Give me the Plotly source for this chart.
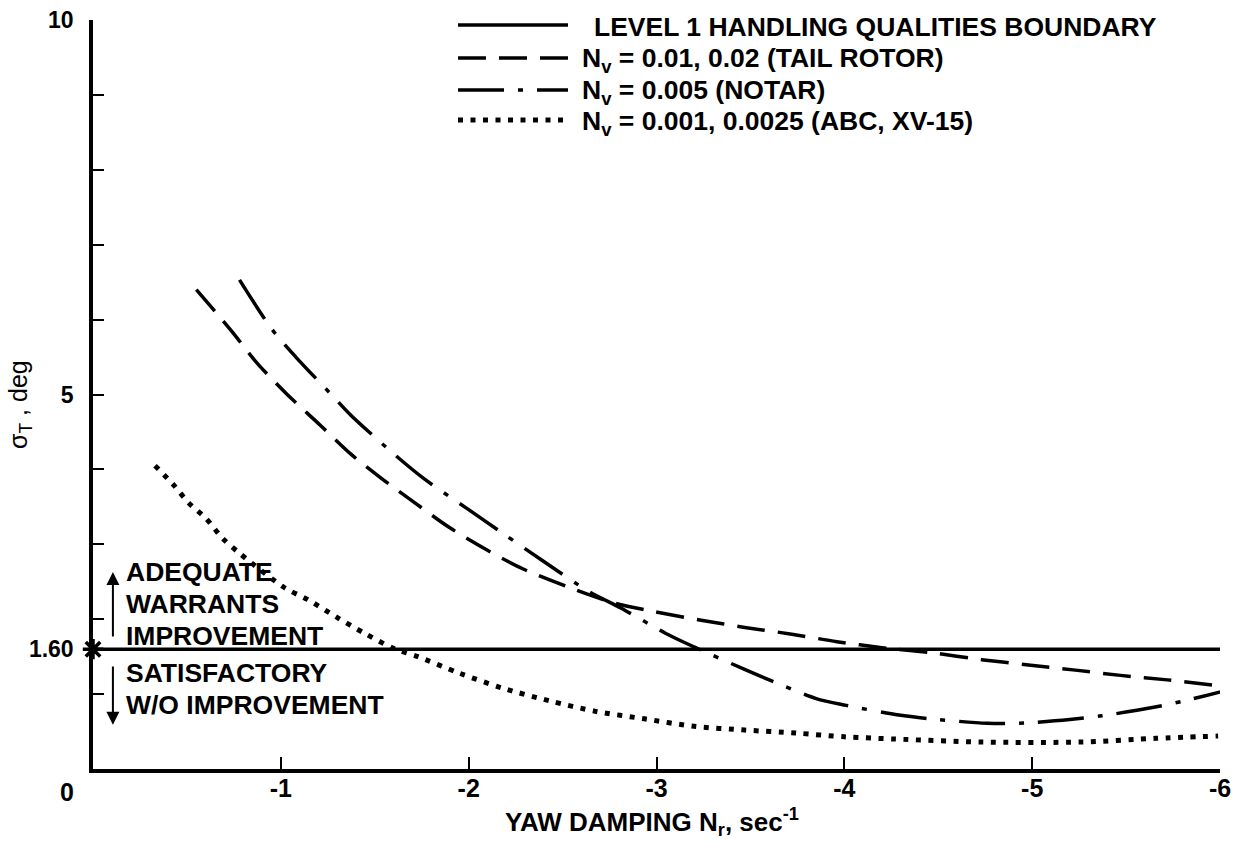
import plotly.graph_objects as go

# ---------------- data ----------------
boundary_x = [0.0, -6.0]
boundary_y = [1.60, 1.60]

tail_x = [-0.55, -0.74, -0.87, -1.03, -1.21, -1.37, -1.53, -1.71, -1.90, -2.10, -2.29,
          -2.55, -2.77, -2.99, -3.23, -3.47, -3.72, -3.96, -4.20, -4.47, -4.73, -4.98,
          -5.23, -5.47, -5.72, -6.00]
tail_y = [6.40, 5.84, 5.43, 5.01, 4.59, 4.21, 3.89, 3.56, 3.22, 2.92, 2.67,
          2.41, 2.22, 2.10, 1.99, 1.89, 1.80, 1.70, 1.62, 1.55, 1.46, 1.39,
          1.32, 1.25, 1.19, 1.11]

notar_x = [-0.78, -0.95, -1.08, -1.28, -1.37, -1.60, -1.76, -1.99, -2.18, -2.40, -2.64,
           -2.81, -3.05, -3.20, -3.46, -3.60, -3.85, -4.01, -4.29, -4.46, -4.76, -4.93,
           -5.20, -5.37, -5.64, -5.81, -6.08]
notar_y = [6.53, 5.88, 5.50, 4.97, 4.73, 4.21, 3.88, 3.48, 3.15, 2.77, 2.37,
           2.15, 1.81, 1.63, 1.34, 1.19, 0.94, 0.85, 0.72, 0.67, 0.61, 0.61,
           0.66, 0.71, 0.82, 0.91, 1.08]

abc_x = [-0.33, -0.43, -0.51, -0.60, -0.69, -0.78, -1.02, -1.145, -1.295, -1.44, -1.60,
         -1.73, -1.95, -2.18, -2.43, -2.675, -2.935, -3.20, -3.47, -3.74, -4.00, -4.27,
         -4.73, -5.26, -5.66, -5.99]
abc_y = [4.05, 3.79, 3.55, 3.35, 3.08, 2.88, 2.42, 2.26, 2.03, 1.82, 1.61,
         1.50, 1.28, 1.08, 0.91, 0.77, 0.67, 0.57, 0.52, 0.48, 0.43, 0.40,
         0.36, 0.36, 0.41, 0.44]

x_tick_vals = [-1, -2, -3, -4, -5, -6]
x_tick_text = ["-1", "-2", "-3", "-4", "-5", "-6"]
y_tick_vals = [0, 1, 1.6, 2, 3, 4, 5, 6, 7, 8, 9, 10]
y_tick_text = ["", "", "1.60", "", "", "", "5", "", "", "", "", "10"]

legend_labels = [
    "LEVEL 1 HANDLING QUALITIES BOUNDARY",
    "N<sub>v</sub> = 0.01, 0.02 (TAIL ROTOR)",
    "N<sub>v</sub> = 0.005 (NOTAR)",
    "N<sub>v</sub> = 0.001, 0.0025 (ABC, XV-15)",
]
upper_region_lines = ["ADEQUATE", "WARRANTS", "IMPROVEMENT"]
lower_region_lines = ["SATISFACTORY", "W/O IMPROVEMENT"]

FONT = "Liberation Sans, Arial, sans-serif"
BLACK = "#000000"
TXT = 26.5

fig = go.Figure()

SOLID = "solid"
DASH = "28px,13px"
DASHDOT = "46px,14px,5px,14px"
DOT = "5px,7.5px"

fig.add_trace(go.Scatter(x=boundary_x, y=boundary_y, mode="lines",
                         line=dict(color=BLACK, width=3.5, dash=SOLID), showlegend=False))
fig.add_trace(go.Scatter(x=tail_x, y=tail_y, mode="lines",
                         line=dict(color=BLACK, width=3.5, dash=DASH, shape="spline", smoothing=0.8),
                         showlegend=False))
fig.add_trace(go.Scatter(x=notar_x, y=notar_y, mode="lines",
                         line=dict(color=BLACK, width=3.5, dash=DASHDOT, shape="spline", smoothing=0.8),
                         showlegend=False))
fig.add_trace(go.Scatter(x=abc_x, y=abc_y, mode="lines",
                         line=dict(color=BLACK, width=5, dash=DOT, shape="spline", smoothing=0.8),
                         showlegend=False))
# star marking the boundary value on the axis
fig.add_trace(go.Scatter(x=[boundary_x[0]], y=[boundary_y[0]], mode="markers",
                         marker=dict(symbol="asterisk-open", size=17, color=BLACK,
                                     line=dict(color=BLACK, width=3.5)),
                         cliponaxis=False, showlegend=False))

# --------------- layout ---------------
W, H = 1239, 851
ML, MR, MT, MB = 93, 19, 20, 82
PW, PH = W - ML - MR, H - MT - MB


def px_x(px):
    return (px - ML) / PW


def px_y(py):
    return (H - MB - py) / PH


fig.update_layout(
    width=W, height=H, autosize=False,
    margin=dict(l=ML, r=MR, t=MT, b=MB, pad=0, autoexpand=False),
    paper_bgcolor="white", plot_bgcolor="white",
    font=dict(family=FONT, color=BLACK),
    showlegend=False,
)
fig.update_xaxes(
    range=[0, -6.0], showgrid=False, zeroline=False, automargin=False,
    showline=True, linecolor=BLACK, linewidth=3.5,
    ticks="inside", ticklen=12, tickwidth=2, tickcolor=BLACK,
    tickvals=x_tick_vals, ticktext=x_tick_text,
    tickfont=dict(family=FONT, size=25, color=BLACK, weight="bold"),
    ticklabelstandoff=-6,
)
fig.update_yaxes(
    range=[0, 10], showgrid=False, zeroline=False, automargin=False,
    showline=True, linecolor=BLACK, linewidth=3.5,
    ticks="inside", ticklen=11, tickwidth=2, tickcolor=BLACK,
    tickvals=y_tick_vals, ticktext=y_tick_text,
    tickfont=dict(family=FONT, size=23, color=BLACK, weight="bold"),
    ticklabelstandoff=11,
)

annotations = []
# x axis title
annotations.append(dict(text="YAW DAMPING N<sub>r</sub>, sec<sup>-1</sup>", xref="paper", yref="paper",
                        x=px_x(652), y=px_y(822), xanchor="center", yanchor="middle", showarrow=False,
                        font=dict(family=FONT, size=26, color=BLACK, weight="bold")))
# origin "0"
annotations.append(dict(text="0", xref="paper", yref="paper", x=px_x(67), y=px_y(792),
                        xanchor="center", yanchor="middle", showarrow=False,
                        font=dict(family=FONT, size=25, color=BLACK, weight="bold")))
# y axis title
annotations.append(dict(text="σ<sub>T</sub> , deg", xref="paper", yref="paper",
                        x=px_x(20), y=px_y(405), textangle=-90,
                        xanchor="center", yanchor="middle", showarrow=False,
                        font=dict(family=FONT, size=25, color=BLACK)))
# region labels (one annotation per line)
upper_py = [572, 604, 636]
lower_py = [673, 705]
for txt, py in zip(upper_region_lines + lower_region_lines, upper_py + lower_py):
    annotations.append(dict(text=txt, xref="paper", yref="paper",
                            x=px_x(124), y=px_y(py), xanchor="left", yanchor="middle", align="left",
                            showarrow=False, font=dict(family=FONT, size=TXT, color=BLACK, weight="bold")))
# arrows
annotations.append(dict(text="", x=-0.106, y=2.63, ax=-0.106, ay=1.75, xref="x", yref="y",
                        axref="x", ayref="y", showarrow=True, arrowhead=2, arrowsize=1.3,
                        arrowwidth=2, arrowcolor=BLACK))
annotations.append(dict(text="", x=-0.106, y=0.59, ax=-0.106, ay=1.39, xref="x", yref="y",
                        axref="x", ayref="y", showarrow=True, arrowhead=2, arrowsize=1.3,
                        arrowwidth=2, arrowcolor=BLACK))

# legend (manual)
legend_rows_py = [25, 58, 90, 120]
legend_text_x = [592, 580, 580, 580]
legend_text_py = [27, 60, 92, 123]
legend_dashes = [SOLID, DASH, DASHDOT, DOT]
legend_widths = [3.5, 3.5, 3.5, 5]
shapes = []
for i in range(4):
    shapes.append(dict(type="line", xref="paper", yref="paper",
                       x0=px_x(458), x1=px_x(568), y0=px_y(legend_rows_py[i]), y1=px_y(legend_rows_py[i]),
                       line=dict(color=BLACK, width=legend_widths[i], dash=legend_dashes[i])))
    annotations.append(dict(text=legend_labels[i], xref="paper", yref="paper",
                            x=px_x(legend_text_x[i]), y=px_y(legend_text_py[i]),
                            xanchor="left", yanchor="middle", showarrow=False,
                            font=dict(family=FONT, size=TXT, color=BLACK, weight="bold")))

fig.update_layout(annotations=annotations, shapes=shapes)

fig.write_html("out.html", config={"displayModeBar": False},
               post_script="document.body.style.margin='0';document.body.style.overflow='hidden';")
